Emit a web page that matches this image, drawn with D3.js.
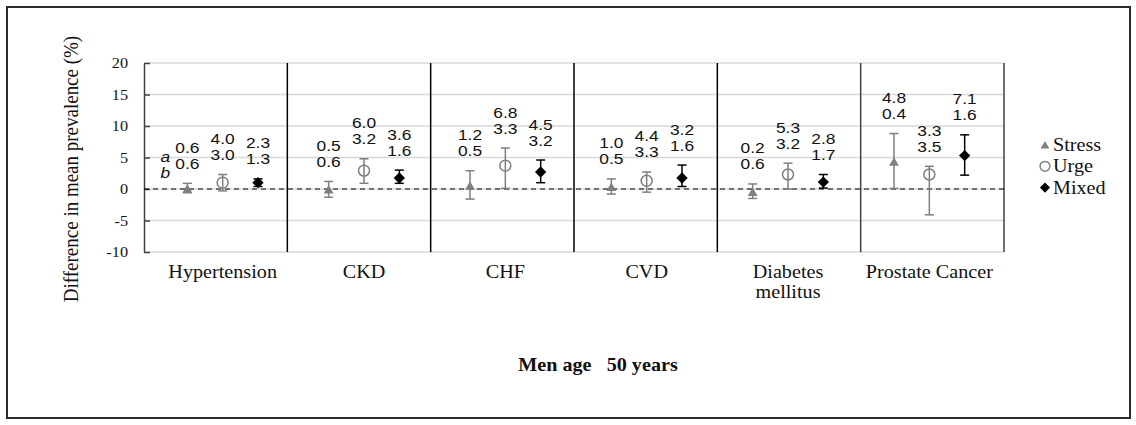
<!DOCTYPE html>
<html>
<head>
<meta charset="utf-8">
<script src="https://cdn.jsdelivr.net/npm/d3@7.9.0/dist/d3.min.js"></script>
<style>
  html, body { margin: 0; padding: 0; background: #fff; }
  text { white-space: pre; }
</style>
</head>
<body>
<svg id="chart" width="1136" height="425"></svg>
<script>
// categories (label lines) and series
const categories = ["Hypertension", "CKD", "CHF", "CVD", "Diabetes mellitus", "Prostate Cancer"];
const categoryLines = [["Hypertension"], ["CKD"], ["CHF"], ["CVD"], ["Diabetes", "mellitus"], ["Prostate Cancer"]];
const seriesNames = ["Stress", "Urge", "Mixed"];

const stressMean = [0.0, -0.1, 0.5, 0.3, -0.5, 4.3];
const stressLow  = [-0.6, -1.3, -1.6, -0.8, -1.5, 0.1];
const stressHigh = [0.9, 1.2, 2.9, 1.6, 0.8, 8.8];
const urgeMean   = [1.0, 2.9, 3.7, 1.3, 2.3, 2.3];
const urgeLow    = [-0.3, 0.9, 0.1, -0.5, 0.0, -4.1];
const urgeHigh   = [2.3, 4.8, 6.5, 2.7, 4.1, 3.6];
const mixedMean  = [1.0, 1.75, 2.7, 1.75, 1.1, 5.3];
const mixedLow   = [0.4, 0.9, 1.0, 0.4, 0.15, 2.2];
const mixedHigh  = [1.6, 3.0, 4.6, 3.8, 2.3, 8.6];

// annotation numbers above each point (a = upper line, b = lower line)
const stressA = ["0.6", "0.5", "1.2", "1.0", "0.2", "4.8"];
const stressB = ["0.6", "0.6", "0.5", "0.5", "0.6", "0.4"];
const urgeA   = ["4.0", "6.0", "6.8", "4.4", "5.3", "3.3"];
const urgeB   = ["3.0", "3.2", "3.3", "3.3", "3.2", "3.5"];
const mixedA  = ["2.3", "3.6", "4.5", "3.2", "2.8", "7.1"];
const mixedB  = ["1.3", "1.6", "3.2", "1.6", "1.7", "1.6"];

const yTicks = [-10, -5, 0, 5, 10, 15, 20];
const yTitle = "Difference in mean prevalence (%)";
const chartTitle = "Men age \u00a0 50 years";

const SX = 1.12; // text in the picture is drawn a bit wide
const serif = "'Liberation Serif', 'Times New Roman', serif";
const sans = "'Liberation Sans', Arial, sans-serif";
const grey = "#7f7f7f";

const series = [
  { name: "Stress", mean: stressMean, lo: stressLow, hi: stressHigh, a: stressA, b: stressB, color: grey },
  { name: "Urge",   mean: urgeMean,   lo: urgeLow,   hi: urgeHigh,   a: urgeA,   b: urgeB,   color: grey },
  { name: "Mixed",  mean: mixedMean,  lo: mixedLow,  hi: mixedHigh,  a: mixedA,  b: mixedB,  color: "#000" }
];

const svg = d3.select("#chart");
const plotLeft = 144, plotRight = 1004, plotTop = 63, plotBottom = 252;

// separators follow the frame; the points and labels sit on a slightly narrower category axis
const x = d3.scaleBand().domain(categories).range([plotLeft, plotRight]).padding(0);
const xc = d3.scaleBand().domain(categories).range([152, 1000]).padding(0);
const xs = d3.scalePoint().domain(seriesNames).range([xc.bandwidth() * 0.25, xc.bandwidth() * 0.75]);
const y = d3.scaleLinear().domain([-10, 20]).range([plotBottom, plotTop]);

function txt(g, px, py, s) {
  return g.append("text").attr("transform", `translate(${px},${py}) scale(${SX},1)`).text(s);
}

// outer frame
svg.append("rect").attr("x", 7).attr("y", 7).attr("width", 1123).attr("height", 411)
  .attr("fill", "none").attr("stroke", "#2b2b2b").attr("stroke-width", 2);

// gridlines
svg.append("g").selectAll("line").data(yTicks).join("line")
  .attr("x1", plotLeft).attr("x2", plotRight)
  .attr("y1", d => y(d)).attr("y2", d => y(d))
  .attr("stroke", "#d9d9d9").attr("stroke-width", 1.5);

// y axis with inward ticks
const yAxis = svg.append("g").attr("transform", `translate(${plotLeft},0)`)
  .call(d3.axisRight(y).tickValues(yTicks).tickSize(6).tickSizeOuter(0).tickFormat(""));
yAxis.select(".domain").attr("stroke", "#404040").attr("stroke-width", 1.5);
yAxis.selectAll(".tick line").attr("stroke", "#404040").attr("stroke-width", 1.5);

const tickLabels = svg.append("g").attr("font-family", serif).attr("font-size", 14.5)
  .attr("text-anchor", "end").attr("fill", "#111");
yTicks.forEach(t => txt(tickLabels, 128, y(t) + 5, String(t)));

// category separators
svg.append("g").selectAll("line").data(categories.slice(1).concat([null])).join("line")
  .attr("x1", d => d ? x(d) : plotRight).attr("x2", d => d ? x(d) : plotRight)
  .attr("y1", plotTop).attr("y2", plotBottom)
  .attr("stroke", (d, i) => i >= 4 ? "#404040" : "#000").attr("stroke-width", 1.5);

// zero reference
svg.append("line").attr("x1", plotLeft).attr("x2", plotRight).attr("y1", y(0)).attr("y2", y(0))
  .attr("stroke", "#000").attr("stroke-width", 1.2).attr("stroke-dasharray", "5,4");

// category labels
const catG = svg.append("g").attr("font-family", serif).attr("font-size", 18)
  .attr("text-anchor", "middle").attr("fill", "#111");
categories.forEach((c, i) => {
  categoryLines[i].forEach((line, j) => txt(catG, xc(c) + xc.bandwidth() / 2, 278 + j * 20, line));
});

// error bars + markers
const marks = svg.append("g");
const cap = 4.5;
series.forEach(s => {
  categories.forEach((c, i) => {
    const cx = xc(c) + xs(s.name);
    const g = marks.append("g").attr("stroke", s.color).attr("stroke-width", 1.5);
    g.append("line").attr("x1", cx).attr("x2", cx).attr("y1", y(s.lo[i])).attr("y2", y(s.hi[i]));
    g.append("line").attr("x1", cx - cap).attr("x2", cx + cap).attr("y1", y(s.lo[i])).attr("y2", y(s.lo[i]));
    g.append("line").attr("x1", cx - cap).attr("x2", cx + cap).attr("y1", y(s.hi[i])).attr("y2", y(s.hi[i]));
  });
});

function drawSymbol(g, name, cx, cy, scale) {
  const k = scale || 1;
  if (name === "Stress") {
    g.append("path").attr("d", d3.symbol(d3.symbolTriangle, 42 * k)())
      .attr("transform", `translate(${cx},${cy + 1})`).attr("fill", grey);
  } else if (name === "Urge") {
    g.append("circle").attr("cx", cx).attr("cy", cy).attr("r", 5.5 * Math.sqrt(k))
      .attr("fill", "none").attr("stroke", grey).attr("stroke-width", 1.5);
  } else {
    g.append("path").attr("d", d3.symbol(d3.symbolSquare, 64 * k)())
      .attr("transform", `translate(${cx},${cy}) rotate(45)`).attr("fill", "#000");
  }
}

series.forEach(s => {
  categories.forEach((c, i) => drawSymbol(marks, s.name, xc(c) + xs(s.name), y(s.mean[i])));
});

// number annotations
const numG = svg.append("g").attr("font-family", sans).attr("font-size", 15.5)
  .attr("text-anchor", "middle").attr("fill", "#111");
series.forEach(s => {
  categories.forEach((c, i) => {
    const cx = xc(c) + xs(s.name);
    const base = y(s.hi[i]) - 14.5;
    txt(numG, cx, base - 16, s.a[i]);
    txt(numG, cx, base, s.b[i]);
  });
});

// a / b key next to the first group
const abG = svg.append("g").attr("font-family", sans).attr("font-size", 15.5)
  .attr("font-style", "italic").attr("text-anchor", "middle").attr("fill", "#111");
const firstX = xc(categories[0]) + xs("Stress") - 22;
const firstBase = y(stressHigh[0]) - 14.5;
txt(abG, firstX, firstBase - 16 + 9, "a");
txt(abG, firstX, firstBase + 9, "b");

// legend
const legG = svg.append("g");
seriesNames.forEach((n, i) => {
  const ly = 145 + i * 21.3;
  drawSymbol(legG, n, 1045, ly, 0.8);
  txt(legG, 1053, ly + 6, n).attr("font-family", serif).attr("font-size", 18).attr("fill", "#111");
});

// y title
svg.append("text")
  .attr("transform", `translate(78,169) scale(1.05,1) rotate(-90)`)
  .attr("text-anchor", "middle").attr("font-family", serif).attr("font-size", 19).attr("fill", "#111")
  .text(yTitle);

// chart title
txt(svg, 598, 371, chartTitle).attr("text-anchor", "middle").attr("font-family", serif)
  .attr("font-size", 18).attr("font-weight", "bold").attr("fill", "#111");
</script>
</body>
</html>
